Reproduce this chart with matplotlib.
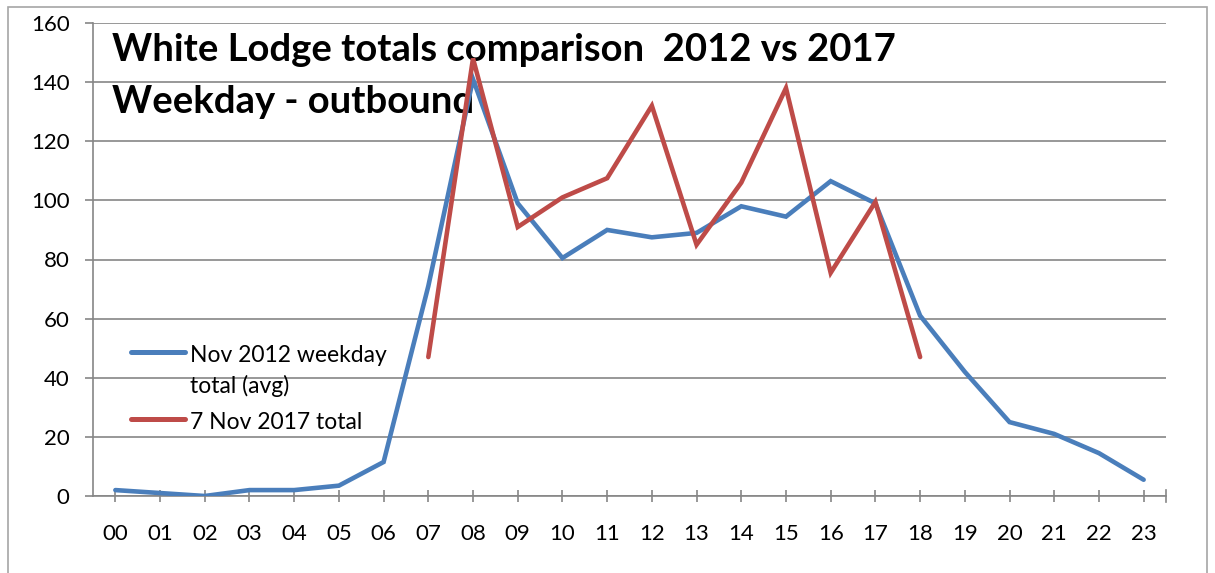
import matplotlib
matplotlib.use("Agg")
import matplotlib.pyplot as plt
from matplotlib.patches import Rectangle
from matplotlib.lines import Line2D

hours = ["00", "01", "02", "03", "04", "05", "06", "07", "08", "09", "10", "11",
         "12", "13", "14", "15", "16", "17", "18", "19", "20", "21", "22", "23"]
avg_2012 = [2, 1, 0, 2, 2, 3.5, 11.5, 71, 141, 99, 80.5, 90,
            87.5, 89, 98, 94.5, 106.5, 99, 61, 42, 25, 21, 14.5, 5.5]
hours_2017 = ["07", "08", "09", "10", "11", "12", "13", "14", "15", "16", "17", "18"]
total_2017 = [47, 148, 91, 101, 107.5, 132, 85, 106, 138, 75.5, 99.5, 47]

label_2012 = ["Nov 2012 weekday", "total (avg)"]
label_2017 = ["7 Nov 2017 total"]
title = "White Lodge totals comparison  2012 vs 2017\nWeekday - outbound"
yticks = list(range(0, 161, 20))

W, H = 1215, 573
fig = plt.figure(figsize=(W / 100, H / 100), dpi=100)
plt.rcParams["font.family"] = ["Lato", "DejaVu Sans"]

blue, red, gray = "#4a7ebb", "#be4b48", "#868686"

# outer chart border
fig.patches.append(Rectangle((8 / W, -0.01), (1207 - 8) / W, 1 - 7 / H + 0.01,
                             transform=fig.transFigure, fill=False,
                             edgecolor="#a6a6a6", linewidth=1.2))

ax = fig.add_axes([93 / W, 1 - 496 / H, (1166 - 93) / W, (496 - 23) / H])

x_all = list(range(len(hours)))
x_2017 = [hours.index(h) for h in hours_2017]

lw = 3.3
ax.plot(x_all, avg_2012, color=blue, linewidth=lw,
        solid_capstyle="round", solid_joinstyle="miter", zorder=3)
ax.plot(x_2017, total_2017, color=red, linewidth=lw,
        solid_capstyle="round", solid_joinstyle="miter", zorder=4)

ax.set_xlim(-0.5, len(hours) - 0.5)
ax.set_ylim(0, 160)
ax.set_yticks(yticks)
ax.set_yticklabels([str(v) for v in yticks], fontsize=16)
ax.set_xticks(x_all)
ax.set_xticklabels(hours, fontsize=16)
ax.grid(axis="y", color=gray, linewidth=1.2)
ax.set_axisbelow(True)

for side in ("top", "right"):
    ax.spines[side].set_visible(False)
for side in ("left", "bottom"):
    ax.spines[side].set_color(gray)
    ax.spines[side].set_linewidth(1.2)

ax.tick_params(axis="y", direction="out", length=5.8, width=1.2, color=gray, pad=11)
ax.tick_params(axis="x", direction="inout", length=8.6, width=1.2, color=gray, pad=16)
# tick at the right end of the category axis
ax.plot([len(hours) - 0.5, len(hours) - 0.5], [-0.013, 0.013], color=gray,
        linewidth=1.2, transform=ax.get_xaxis_transform(), clip_on=False)

ax.text(0.018, 0.978, title, transform=ax.transAxes, fontsize=27.5,
        fontweight="bold", va="top", ha="left", linespacing=1.62, zorder=2)

# legend, laid out in pixel positions of the figure
def px(x, y):
    return x / W, 1 - y / H

legend_rows = [(blue, 352, label_2012, 362), (red, 419, label_2017, 429)]
for colour, y_line, lines, y_base in legend_rows:
    (x0, y0), (x1, _) = px(131, y_line), px(185, y_line)
    fig.add_artist(Line2D([x0, x1], [y0, y0], color=colour, linewidth=3.6,
                          solid_capstyle="round", transform=fig.transFigure))
    for i, line in enumerate(lines):
        tx, ty = px(190, y_base + 31 * i)
        fig.text(tx, ty, line, fontsize=16.5, va="baseline", ha="left")

fig.savefig("out.png", dpi=100)
